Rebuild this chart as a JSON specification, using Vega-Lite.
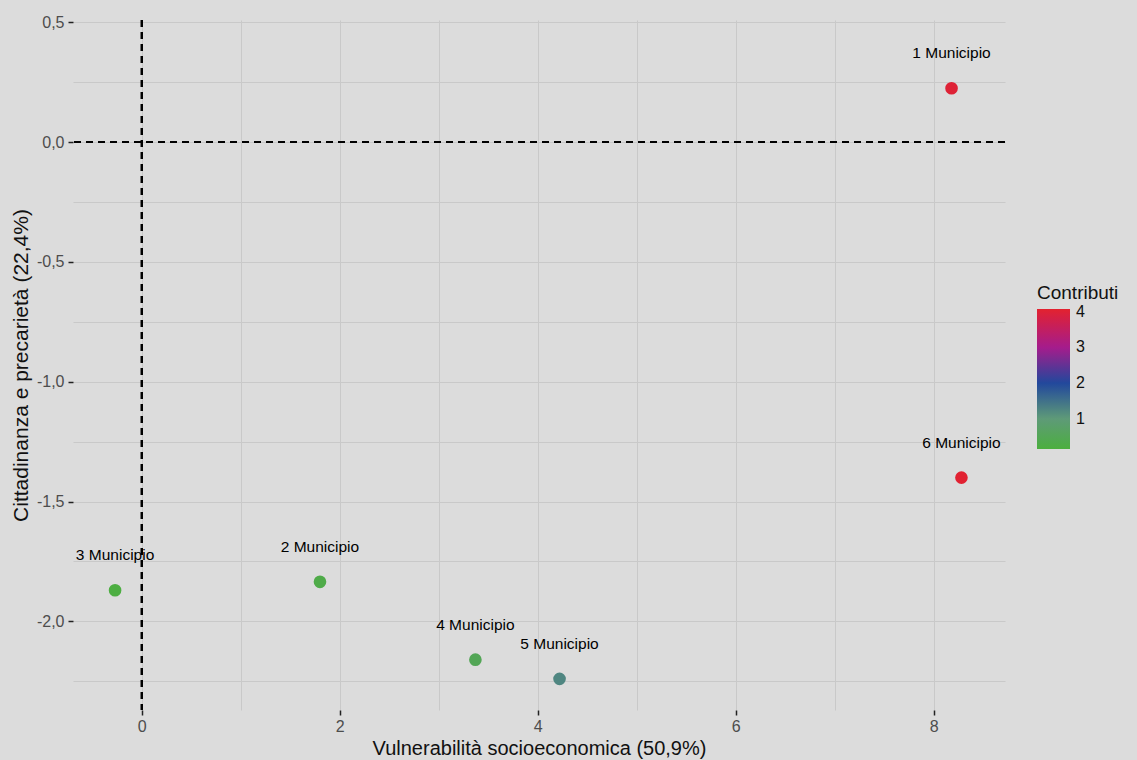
{
  "$schema": "https://vega.github.io/schema/vega-lite/v6.json",
  "autosize": {"type": "none"},
  "width": 932,
  "height": 690,
  "padding": {"left": 73, "top": 20, "right": 132, "bottom": 50},
  "background": "#DCDCDC",
  "config": {
    "view": {"stroke": null, "fill": "#DCDCDC"},
    "font": "Liberation Sans",
    "axis": {
      "domain": false,
      "gridColor": "#C9C9C9",
      "gridWidth": 1,
      "tickColor": "#222222",
      "tickWidth": 1.5,
      "tickSize": 5,
      "labelFontSize": 16,
      "labelColor": "#4D4D4D",
      "titleFontSize": 20,
      "titleFontWeight": "normal",
      "titleColor": "#111111"
    }
  },
  "datasets": {
    "punti": [
      {"municipio": "1 Municipio", "dim1": 8.18, "dim2": 0.225, "contributi": 4.0},
      {"municipio": "2 Municipio", "dim1": 1.80, "dim2": -1.835, "contributi": 0.3},
      {"municipio": "3 Municipio", "dim1": -0.27, "dim2": -1.87, "contributi": 0.2},
      {"municipio": "4 Municipio", "dim1": 3.37, "dim2": -2.16, "contributi": 0.5},
      {"municipio": "5 Municipio", "dim1": 4.22, "dim2": -2.24, "contributi": 1.25},
      {"municipio": "6 Municipio", "dim1": 8.28, "dim2": -1.40, "contributi": 4.05}
    ]
  },
  "data": {"name": "punti"},
  "encoding": {
    "x": {
      "field": "dim1",
      "type": "quantitative",
      "scale": {"domain": [-0.695, 8.72], "nice": false, "zero": false},
      "axis": {
        "values": [0, 1, 2, 3, 4, 5, 6, 7, 8],
        "labelExpr": "datum.value % 2 === 0 ? format(datum.value, 'd') : ''",
        "tickOpacity": {"condition": {"test": "datum.value % 2 === 0", "value": 1}, "value": 0},
        "labelPadding": 3,
        "title": "Vulnerabilità socioeconomica (50,9%)",
        "titlePadding": 4
      }
    },
    "y": {
      "field": "dim2",
      "type": "quantitative",
      "scale": {"domain": [-2.37, 0.51], "nice": false, "zero": false},
      "axis": {
        "values": [0.5, 0.25, 0, -0.25, -0.5, -0.75, -1, -1.25, -1.5, -1.75, -2, -2.25],
        "labelExpr": "abs(datum.value * 2 - round(datum.value * 2)) < 0.001 ? replace(replace(format(datum.value, '.1f'), '.', ','), '\u2212', '-') : ''",
        "tickOpacity": {"condition": {"test": "abs(datum.value * 2 - round(datum.value * 2)) < 0.001", "value": 1}, "value": 0},
        "labelPadding": 4,
        "title": "Cittadinanza e precarietà (22,4%)",
        "titleFontSize": 21,
        "titlePadding": 5
      }
    }
  },
  "layer": [
    {
      "mark": {"type": "rule", "color": "#000000", "strokeDash": [7, 5], "strokeWidth": 1.8},
      "encoding": {"x": {"datum": 0}, "y": null}
    },
    {
      "mark": {"type": "rule", "color": "#000000", "strokeDash": [7, 5], "strokeWidth": 1.8},
      "encoding": {"y": {"datum": 0}, "x": null}
    },
    {
      "mark": {"type": "circle", "size": 160, "opacity": 1},
      "encoding": {
        "color": {
          "field": "contributi",
          "type": "quantitative",
          "scale": {
            "domain": [0.15, 1, 2, 3, 4.08],
            "range": ["#4CAF3F", "#5E9A78", "#22489C", "#A51C8C", "#E3222F"],
            "interpolate": "rgb"
          },
          "legend": {
            "title": "Contributi",
            "orient": "none",
            "legendX": 964,
            "legendY": 264,
            "direction": "vertical",
            "gradientLength": 140,
            "gradientThickness": 33,
            "values": [1, 2, 3, 4],
            "labelFontSize": 16,
            "labelColor": "#111111",
            "titleFontSize": 19,
            "titleFontWeight": "normal",
            "titleColor": "#111111",
            "titlePadding": 6,
            "labelOffset": 6,
            "tickCount": 4
          }
        }
      }
    },
    {
      "mark": {"type": "text", "dy": -35, "fontSize": 15.5, "color": "#000000"},
      "encoding": {"text": {"field": "municipio"}}
    }
  ]
}
